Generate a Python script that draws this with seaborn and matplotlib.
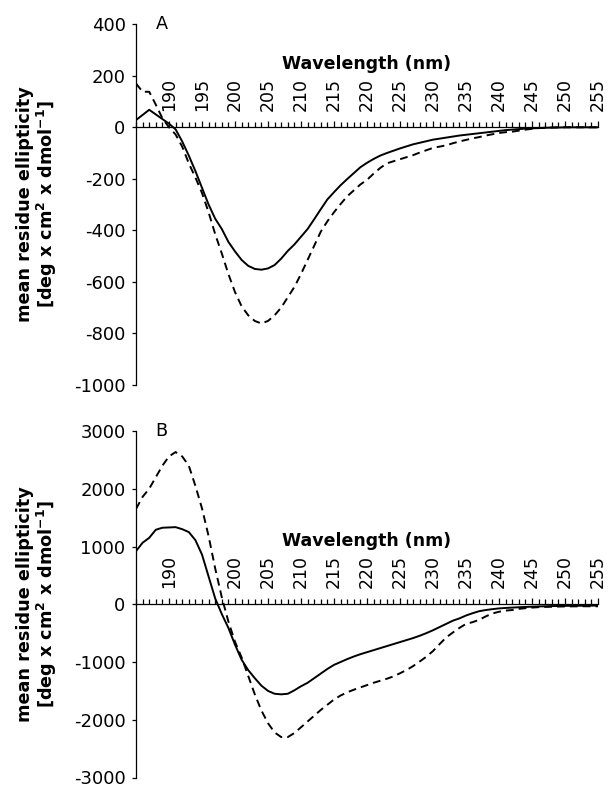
import numpy as np
import pandas as pd
import matplotlib
matplotlib.use("Agg")
import matplotlib.pyplot as plt
import seaborn as sns
from matplotlib.ticker import FixedLocator, FixedFormatter, MultipleLocator

# ---------------- data ----------------
wavelength = list(range(185, 256))

a_solid = [28, 48, 68, 50, 32, 14, -8, -55, -110, -170,
           -235, -300, -355, -395, -445, -482, -515, -538, -550, -553,
           -548, -535, -510, -480, -455, -425, -395, -357, -318, -280,
           -252, -225, -201, -178, -155, -138, -123, -110, -100, -91,
           -82, -74, -66, -60, -54, -48, -44, -40, -36, -32,
           -29, -26, -23, -20, -17, -14, -11, -9, -7, -5,
           -4, -3, -2, -1, -1, 0, 0, 0, 0, 0, 0]

a_dashed = [170, 138, 138, 88, 35, 0, -28, -75, -140, -195,
            -255, -330, -415, -490, -570, -640, -695, -730, -752, -762,
            -752, -730, -700, -660, -620, -570, -515, -460, -405, -365,
            -330, -298, -268, -245, -222, -204, -180, -158, -140, -132,
            -124, -116, -108, -98, -89, -80, -75, -70, -62, -55,
            -49, -43, -38, -32, -27, -22, -19, -17, -13, -9,
            -6, -3, -2, -1, 0, 0, 0, 0, 0, 0, 0]

b_solid = [920, 1065, 1150, 1290, 1325, 1330, 1335, 1300, 1250, 1110,
           860, 480, 100, -170, -410, -700, -960, -1140, -1280, -1410,
           -1500, -1550, -1560, -1550, -1490, -1420, -1360, -1280, -1200, -1120,
           -1050, -1000, -950, -905, -865, -830, -795, -760, -725, -690,
           -655, -620, -585, -545, -500, -450, -395, -340, -285, -245,
           -195, -155, -120, -100, -85, -72, -64, -58, -52, -47,
           -42, -38, -35, -32, -30, -28, -27, -26, -25, -24, -24]

b_dashed = [1650, 1860, 2000, 2200, 2400, 2560, 2635, 2560, 2400, 2050,
            1660, 1180, 620, 120, -300, -650, -920, -1240, -1560, -1840,
            -2060, -2220, -2300, -2300, -2230, -2130, -2030, -1930, -1830, -1740,
            -1650, -1580, -1525, -1480, -1440, -1400, -1360, -1325, -1290, -1250,
            -1195, -1138, -1070, -990, -908, -810, -690, -575, -490, -410,
            -340, -310, -270, -210, -160, -130, -110, -100, -80, -68,
            -58, -50, -46, -43, -40, -38, -37, -36, -35, -35, -35]

a_yticks = [400, 200, 0, -200, -400, -600, -800, -1000]
b_yticks = [3000, 2000, 1000, 0, -1000, -2000, -3000]
a_xlabels = [190, 195, 200, 205, 210, 215, 220, 225, 230, 235, 240, 245, 250, 255]
b_xlabels = [190, 200, 205, 210, 215, 220, 225, 230, 235, 240, 245, 250, 255]

ylabel_text = "mean residue ellipticity\n[deg x cm$^{2}$ x dmol$^{-1}$]"
xlabel_text = "Wavelength (nm)"

# ---------------- style ----------------
sns.set_theme(style="ticks")
plt.rcParams['font.family'] = ['DejaVu Sans']
plt.rcParams['axes.unicode_minus'] = False
plt.rcParams['mathtext.fontset'] = 'custom'
plt.rcParams['mathtext.rm'] = 'DejaVu Sans:bold'
plt.rcParams['mathtext.it'] = 'DejaVu Sans:bold'
plt.rcParams['mathtext.bf'] = 'DejaVu Sans:bold'

fig = plt.figure(figsize=(6.09, 7.90), dpi=100)
fig.patch.set_facecolor('white')

W, H = 609.0, 790.0
def axes_rect(left_px, right_px, top_px, bottom_px):
    return [left_px / W, 1 - bottom_px / H, (right_px - left_px) / W, (bottom_px - top_px) / H]

axA = fig.add_axes(axes_rect(136, 598, 24.3, 384.8))
axB = fig.add_axes(axes_rect(136, 598, 431.0, 777.5))

dfA = pd.DataFrame({"wl": wavelength, "solid": a_solid, "dashed": a_dashed})
dfB = pd.DataFrame({"wl": wavelength, "solid": b_solid, "dashed": b_dashed})

FS = 12.7

def draw(ax, df, yticks, xlabels, letter):
    ax.set_facecolor('white')
    sns.lineplot(data=df, x="wl", y="solid", ax=ax, color='black', lw=1.4)
    sns.lineplot(data=df, x="wl", y="dashed", ax=ax, color='black', lw=1.4,
                 linestyle=(0, (4, 2.6)))
    ax.set_xlim(185, 255)
    ax.set_ylim(yticks[-1], yticks[0])
    for s in ['right', 'bottom']:
        ax.spines[s].set_visible(False)
    ax.spines['top'].set_position(('data', 0))
    ax.spines['top'].set_linewidth(0.9)
    ax.spines['left'].set_linewidth(0.9)
    ax.spines['top'].set_color('black')
    ax.spines['left'].set_color('black')
    ax.xaxis.tick_top()
    ax.xaxis.set_label_position('top')
    ax.xaxis.set_major_locator(FixedLocator(xlabels))
    ax.xaxis.set_major_formatter(FixedFormatter([str(v) for v in xlabels]))
    ax.xaxis.set_minor_locator(MultipleLocator(1))
    ax.tick_params(axis='x', which='both', direction='out', top=True, bottom=False,
                   labeltop=True, labelbottom=False, color='black', width=0.9)
    ax.tick_params(axis='x', which='major', length=4, pad=8, labelsize=12.5,
                   labelrotation=90, labelcolor='black')
    ax.tick_params(axis='x', which='minor', length=3.5)
    ax.set_yticks(yticks)
    ax.tick_params(axis='y', which='major', direction='out', length=3, width=0.9,
                   pad=4.5, labelsize=13, color='black', labelcolor='black')
    ax.set_xlabel(xlabel_text, fontsize=12.5, fontweight='bold', labelpad=6, color='black')
    ax.set_ylabel(ylabel_text, fontsize=FS, fontweight='bold', linespacing=1.05, color='black')
    ax.yaxis.set_label_coords(-0.167, 0.5)
    ax.text(0.055, 1.0, letter, transform=ax.transAxes, fontsize=FS,
            ha='center', va='center', color='black')
    ax.grid(False)

draw(axA, dfA, a_yticks, a_xlabels, "A")
draw(axB, dfB, b_yticks, b_xlabels, "B")

fig.savefig("out.png", dpi=100, facecolor='white')
